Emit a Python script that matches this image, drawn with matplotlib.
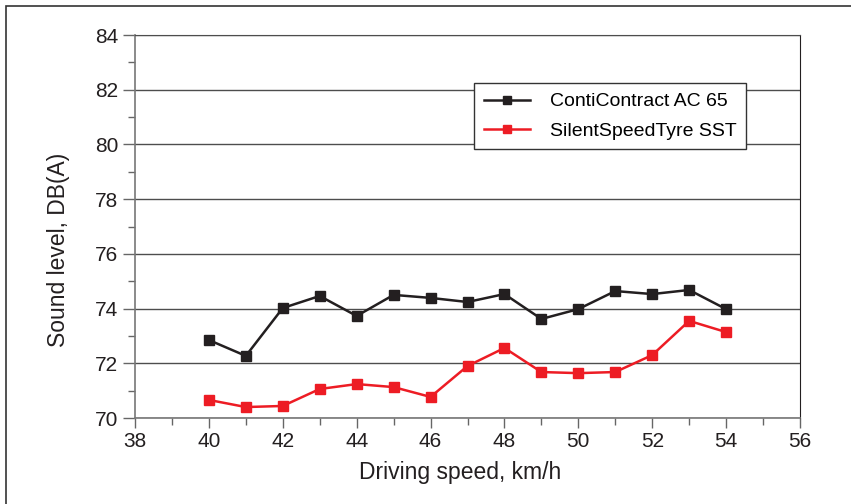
import numpy as np
import matplotlib.pyplot as plt
from matplotlib.patches import Rectangle

plt.rcParams['font.family'] = ['Liberation Sans', 'DejaVu Sans']

speed = [40, 41, 42, 43, 44, 45, 46, 47, 48, 49, 50, 51, 52, 53, 54]
conti = [72.85, 72.27, 74.02, 74.46, 73.73, 74.50, 74.39, 74.24, 74.53,
         73.62, 73.98, 74.64, 74.53, 74.68, 73.98]
silent = [70.66, 70.40, 70.44, 71.06, 71.24, 71.13, 70.77, 71.90, 72.56,
          71.68, 71.64, 71.68, 72.30, 73.55, 73.14]
names = ['ContiContract AC 65', 'SilentSpeedTyre SST']

fig = plt.figure(figsize=(8.51, 5.04), dpi=100)
ax = fig.add_axes([135/851, 1-418/504, 665/851, 383/504])

# outer frame (only top and left visible in the original crop)
fig.patches.append(Rectangle((6/851, -0.2), 1.2, 1.2 - 6/504,
                             transform=fig.transFigure, fill=False,
                             edgecolor='#333333', lw=1.2, clip_on=False))

ax.plot(speed, conti, color='#231f20', lw=1.8, marker='s', ms=7.5,
        label=names[0], zorder=3)
ax.plot(speed, silent, color='#ed1c24', lw=1.8, marker='s', ms=7.5,
        label=names[1], zorder=3)

ax.set_xlim(38, 56)
ax.set_ylim(70, 84)
ax.set_xticks(np.arange(38, 57, 2))
ax.set_xticks(np.arange(38, 57, 1), minor=True)
ax.set_yticks(np.arange(70, 85, 2))
ax.set_yticks(np.arange(70, 85, 1), minor=True)
ax.yaxis.grid(True, which='major', color='#4d4d4d', lw=1)
ax.set_axisbelow(True)

ax.tick_params(which='both', direction='out', color='#666666', width=1,
               labelsize=15, labelcolor='#231f20')
ax.tick_params(which='major', length=7)
ax.tick_params(which='minor', length=5)
ax.tick_params(axis='y', which='major', length=9, pad=3)
ax.tick_params(axis='x', which='major', pad=3)

for s in ['left', 'bottom']:
    ax.spines[s].set_color('#777777')
    ax.spines[s].set_linewidth(1.2)
ax.spines['right'].set_color('#231f20')
ax.spines['top'].set_color('#4d4d4d')

ax.set_xlabel('Driving speed, km/h', fontsize=16.5, color='#231f20')
ax.set_ylabel('Sound level, DB(A)', fontsize=16.5, color='#231f20')
ax.xaxis.set_label_coords(0.489, -0.112)
ax.yaxis.set_label_coords(-0.097, 0.44)

leg = ax.legend(loc='upper right', bbox_to_anchor=(0.934, 0.90), fontsize=14,
                frameon=True, fancybox=False, framealpha=1, edgecolor='#333333',
                handlelength=2.4, borderpad=0.5, labelspacing=0.6,
                handletextpad=1.0, markerscale=0.75)
leg.get_frame().set_linewidth(1)

fig.savefig('out.png', dpi=100)
